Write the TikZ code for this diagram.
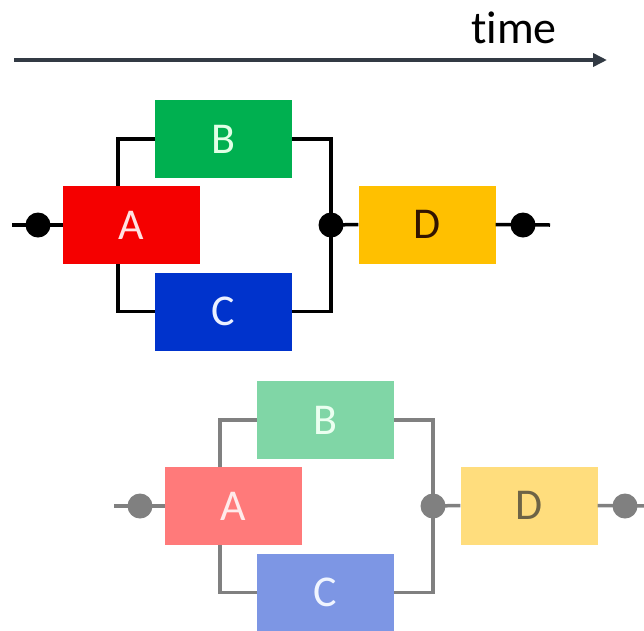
\documentclass[tikz,border=0pt]{standalone}
\usepackage{fontspec}
\setmainfont{Carlito}[Ligatures={NoCommon,NoRare}]
\usetikzlibrary{arrows.meta,calc}
\definecolor{tA}{RGB}{245,0,0}
\definecolor{tB}{RGB}{0,176,80}
\definecolor{tC}{RGB}{0,51,204}
\definecolor{tD}{RGB}{255,192,0}
\definecolor{tL}{RGB}{0,0,0}
\definecolor{tTA}{RGB}{255,225,225}
\definecolor{tTB}{RGB}{225,255,230}
\definecolor{tTC}{RGB}{235,240,255}
\definecolor{tTD}{RGB}{50,20,0}
\definecolor{bA}{RGB}{255,122,122}
\definecolor{bB}{RGB}{128,214,166}
\definecolor{bC}{RGB}{125,150,228}
\definecolor{bD}{RGB}{255,221,125}
\definecolor{bL}{RGB}{128,128,128}
\definecolor{bTA}{RGB}{255,235,235}
\definecolor{bTB}{RGB}{235,255,240}
\definecolor{bTC}{RGB}{240,245,255}
\definecolor{bTD}{RGB}{110,100,70}
\definecolor{arrowgray}{RGB}{50,58,68}
\begin{document}
\begin{tikzpicture}[x=1pt,y=-1pt,
  box/.style={minimum width=137pt, minimum height=78pt, inner sep=0pt,
    font=\fontsize{44}{52}\selectfont},
  wire/.style={line width=3.5pt, draw=cL},
  dot/.style={circle, fill=cL, minimum size=25pt, inner sep=0pt}]
\useasboundingbox (0,0) rectangle (644,630);
\fill[white] (0,0) rectangle (644,630);
% time axis
\coordinate (t0) at (14,60);
\coordinate (t1) at (607,60);
\draw[line width=3.5pt, draw=arrowgray, -{Triangle[length=14pt,width=13pt]}] (t0) -- (t1);
\node[font=\fontsize{46}{54}\selectfont, text=black] (time) at (514,28) {time};
% two diagrams
\foreach \p/\dx/\dy in {t/0/0, b/102/281}{
  \colorlet{cA}{\p A}\colorlet{cB}{\p B}\colorlet{cC}{\p C}\colorlet{cD}{\p D}
  \colorlet{cL}{\p L}
  \colorlet{cTA}{\p TA}\colorlet{cTB}{\p TB}\colorlet{cTC}{\p TC}\colorlet{cTD}{\p TD}
  \begin{scope}[shift={(\dx,\dy)}]
    \node[box, fill=cA, text=cTA] (A\p) at (131.5,225) {A};
    \node[box, fill=cB, text=cTB] (B\p) at (223.5,139) {B};
    \node[box, fill=cC, text=cTC] (C\p) at (223.5,311.5) {C};
    \node[box, fill=cD, text=cTD] (D\p) at (427,224.5) {D};
    \coordinate (S\p) at (12,225);
    \coordinate (E\p) at (550,225);
    \coordinate (J\p) at (331,225);
    \draw[wire] (S\p) -- (A\p.west);
    \draw[wire] ($(A\p.north west)!0.4!(A\p.north east)$) |- (B\p.west);
    \draw[wire] ($(A\p.south west)!0.4!(A\p.south east)$) |- (C\p.west);
    \draw[wire] (B\p.east) -| (J\p);
    \draw[wire] (C\p.east) -| (J\p);
    \draw[wire] (J\p) -- (D\p.west);
    \draw[wire] (D\p.east) -- (E\p);
    \node[dot] (L\p) at (38,225) {};
    \node[dot] (M\p) at (J\p) {};
    \node[dot] (R\p) at (523,225) {};
  \end{scope}
}
\end{tikzpicture}
\end{document}
